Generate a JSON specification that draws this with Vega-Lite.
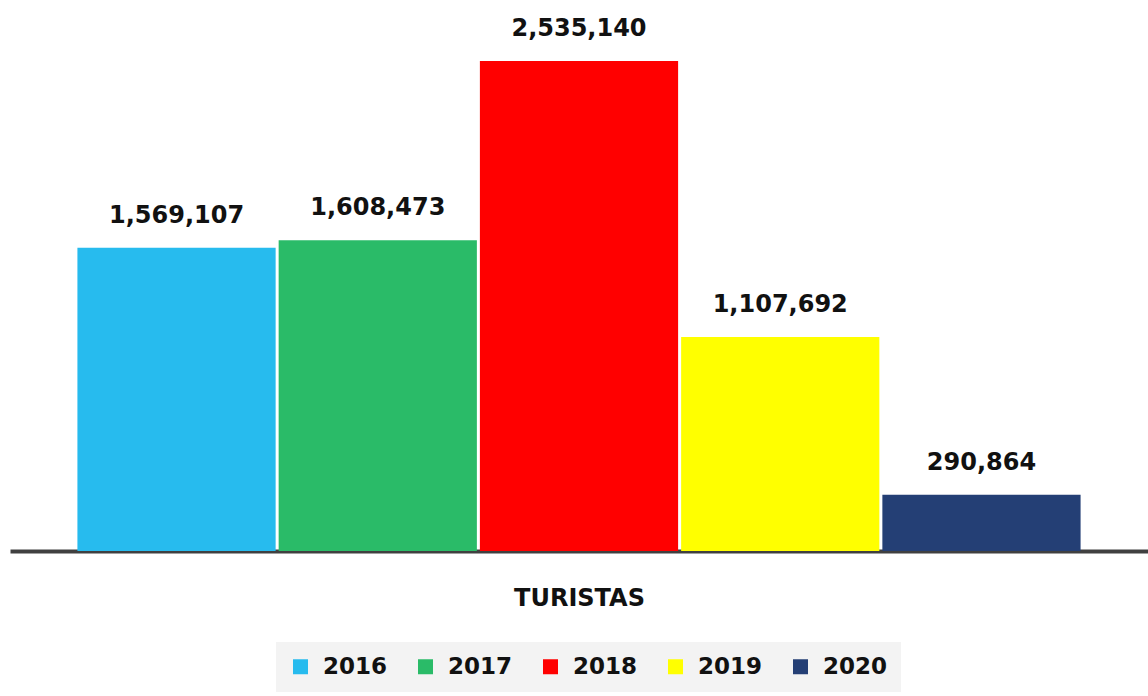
{
  "$schema": "https://vega.github.io/schema/vega-lite/v6.json",
  "width": 1138,
  "height": 545,
  "padding": {"left": 10, "top": 6, "right": 0, "bottom": 0},
  "background": "white",
  "config": {"view": {"stroke": null}},
  "data": {"values": [
    {"year": "2016", "turistas": 1569107},
    {"year": "2017", "turistas": 1608473},
    {"year": "2018", "turistas": 2535140},
    {"year": "2019", "turistas": 1107692},
    {"year": "2020", "turistas": 290864}
  ]},
  "encoding": {
    "x": {
      "field": "year", "type": "nominal",
      "scale": {"paddingInner": 0.015, "paddingOuter": 0.335},
      "axis": {
        "labels": false, "ticks": false, "title": "TURISTAS",
        "domainColor": "#404040", "domainWidth": 4,
        "titleFont": "DejaVu Sans", "titleFontSize": 24, "titleFontWeight": "bold",
        "titleColor": "#111111", "titlePadding": 35
      }
    },
    "y": {
      "field": "turistas", "type": "quantitative",
      "scale": {"domain": [0, 2820000], "nice": false},
      "axis": null
    }
  },
  "layer": [
    {
      "mark": {"type": "bar"},
      "encoding": {
        "color": {
          "field": "year", "type": "nominal",
          "scale": {"domain": ["2016", "2017", "2018", "2019", "2020"],
                    "range": ["#27BBEE", "#2ABB68", "#FF0000", "#FFFF00", "#243F75"]},
          "legend": {
            "orient": "none", "direction": "horizontal", "columns": 5,
            "legendX": 266, "legendY": 636,
            "title": null,
            "symbolType": "square", "symbolSize": 225, "symbolStrokeWidth": 0,
            "symbolOpacity": 1,
            "labelFont": "DejaVu Sans", "labelFontSize": 23, "labelFontWeight": "bold",
            "labelColor": "#111111", "labelOffset": 11,
            "columnPadding": 26,
            "fillColor": "#f3f3f3", "padding": 13
          }
        }
      }
    },
    {
      "mark": {"type": "text", "baseline": "alphabetic", "dy": -25,
               "font": "DejaVu Sans", "fontSize": 24, "fontWeight": "bold", "color": "#111111"},
      "encoding": {
        "text": {"field": "turistas", "type": "quantitative", "format": ","}
      }
    }
  ]
}
